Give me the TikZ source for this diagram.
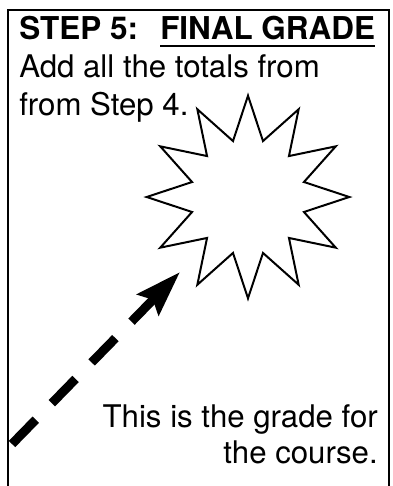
\documentclass[tikz,border=0pt]{standalone}
\usepackage{fontspec}
\setmainfont{TeX Gyre Heros}
\usetikzlibrary{shapes.geometric,arrows.meta}
\begin{document}
\begin{tikzpicture}[x=0.75pt,y=-0.75pt,
  txt/.style={inner sep=0pt,font=\fontsize{23.4}{28}\selectfont},
  bold/.style={txt,font=\fontsize{23.6}{28}\selectfont\bfseries},
  frame/.style={line width=1.5pt},
  burst/.style={star,star points=12,star point ratio=1.75,minimum size=152pt,inner sep=0pt,draw,line width=1.5pt},
  dasharrow/.style={line width=6.75pt,dash pattern=on 25.5pt off 17.25pt,-{Stealth[length=34pt,width=22pt,inset=5pt]}}]
\useasboundingbox (0,0) rectangle (393,486);
\draw[frame] (8,486) -- (8,9.5) -- (388.5,9.5) -- (388.5,486);
\node[bold,anchor=base west] (t1) at (19,39) {STEP 5:};
\node[bold,anchor=base west] (t2) at (160,39) {FINAL GRADE};
\draw[line width=1.5pt] ([yshift=-5.25pt]t2.base west) -- ([yshift=-5.25pt]t2.base east);
\node[txt,anchor=base west] (l1) at (19,77) {Add all the totals from};
\node[txt,anchor=base west] (l2) at (19,115) {from Step 4.};
\node[burst] (s) at (248,197) {};
\node[txt,anchor=base east] (b1) at (378,427) {This is the grade for};
\node[txt,anchor=base east] (b2) at (378,463) {the course.};
\coordinate (a0) at (12,444);
\coordinate (a1) at (180,272);
\draw[dasharrow] (a0) -- (a1);
\end{tikzpicture}
\end{document}
